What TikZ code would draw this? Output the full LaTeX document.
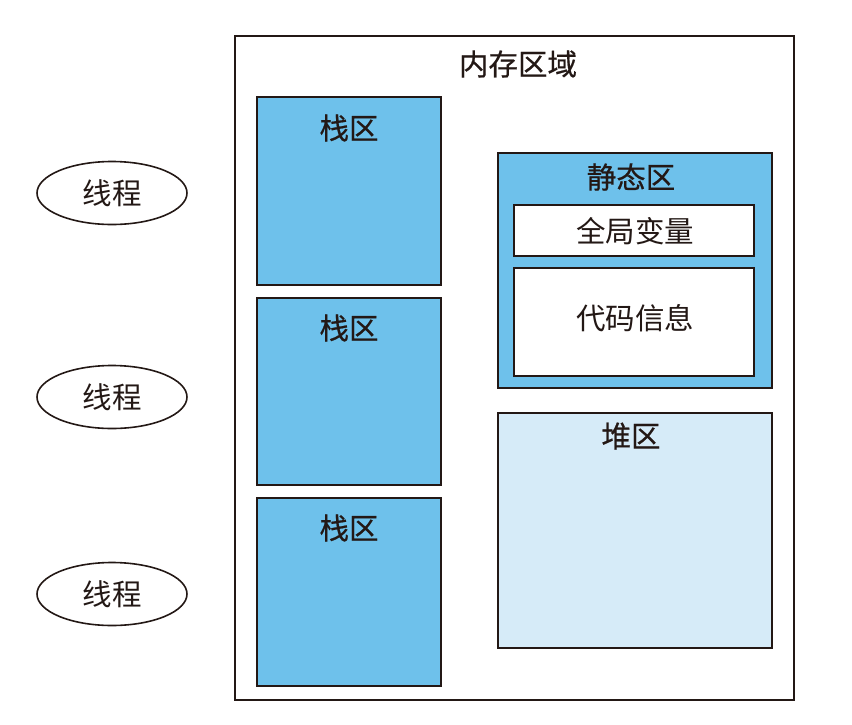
\documentclass[tikz,border=0pt]{standalone}
\usepackage{fontspec}
\usetikzlibrary{shapes.geometric}
\newfontfamily\cjk{Noto Sans CJK SC}
\newfontfamily\cjkhead[FakeBold=0.6]{Noto Sans CJK SC}
\definecolor{boxblue}{HTML}{6EC1EB}
\definecolor{heapblue}{HTML}{D6EBF8}
\definecolor{ink}{HTML}{231815}
\begin{document}
\begin{tikzpicture}[x=1pt,y=-1pt,
  box/.style={draw=ink,line width=2pt,inner sep=0pt},
  lbl/.style={font=\cjk\fontsize{29.5}{32}\selectfont,text=ink,inner sep=0pt},
  head/.style={font=\cjkhead\fontsize{29.5}{32}\selectfont,text=ink,inner sep=0pt},
  thread/.style={draw=ink,line width=1.6pt,ellipse,minimum width=150pt,minimum height=63pt,inner sep=0pt,font=\cjk\fontsize{29.5}{32}\selectfont,text=ink}]
\useasboundingbox (0,0) rectangle (852,724);
% outer
\draw[box,fill=white] (235,36) rectangle (794,700);
\node[head] (title) at (518,64) {内存区域};
% stacks
\draw[box,fill=boxblue] (257,97) rectangle (441,285);
\node[head] (s1) at (349,128) {栈区};
\draw[box,fill=boxblue] (257,298) rectangle (441,485);
\node[head] (s2) at (349,328) {栈区};
\draw[box,fill=boxblue] (257,498) rectangle (441,686);
\node[head] (s3) at (349,528) {栈区};
% static
\draw[box,fill=boxblue] (498,153) rectangle (772,388);
\node[head] (st) at (631,177) {静态区};
\draw[box,fill=white] (514,205) rectangle (754,256);
\node[lbl] (gv) at (635,231) {全局变量};
\draw[box,fill=white] (514,268) rectangle (754,376);
\node[lbl] (ci) at (635,318) {代码信息};
% heap
\draw[box,fill=heapblue] (498,413) rectangle (772,648);
\node[head] (hp) at (631,436) {堆区};
% threads
\node[thread] (t1) at (112,193) {线程};
\node[thread] (t2) at (112,397) {线程};
\node[thread] (t3) at (112,594) {线程};
\end{tikzpicture}
\end{document}
